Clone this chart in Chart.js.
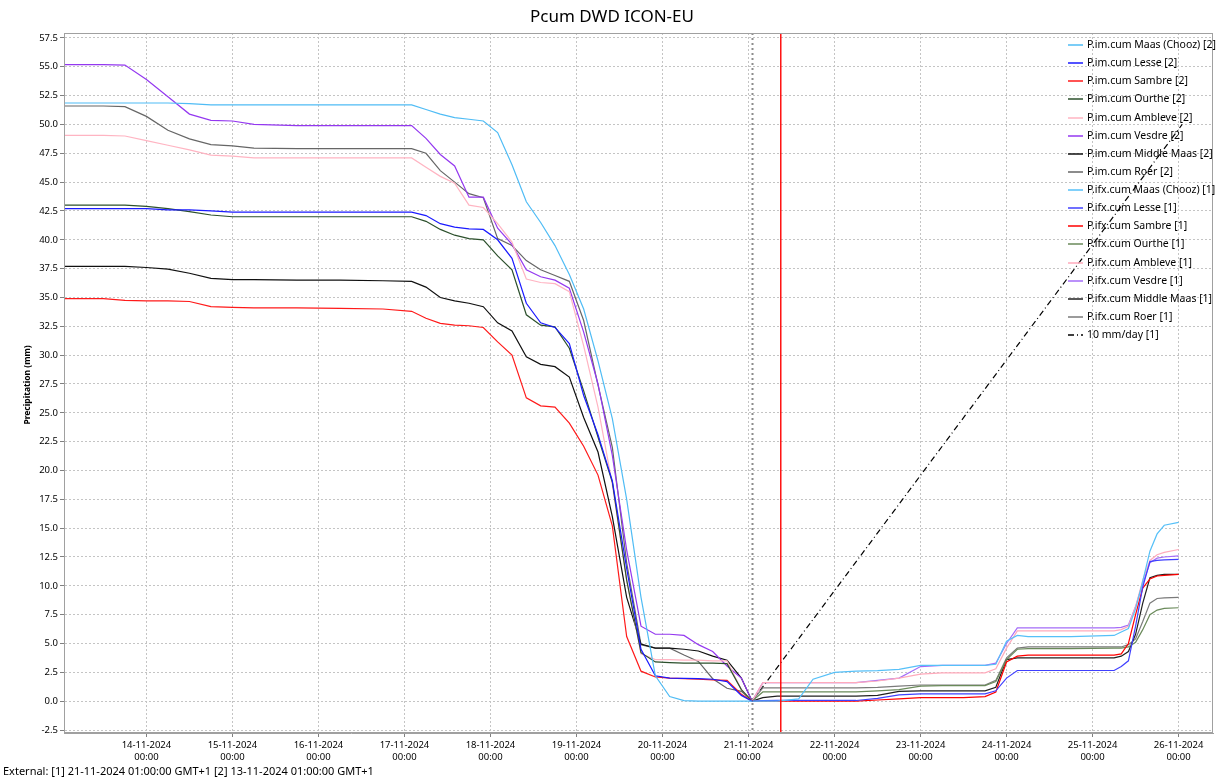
<!DOCTYPE html>
<html lang="en">
<head>
<meta charset="UTF-8">
<title>Pcum DWD ICON-EU</title>
<script src="https://cdn.jsdelivr.net/npm/chart.js"></script>
<style>
  html, body { margin: 0; padding: 0; background: #fff; }
</style>
</head>
<body>
<canvas id="pcumChart" width="1223" height="780"></canvas>
<script>
// x values are hours since 13-11-2024 00:00
const dayLabels = ['14-11-2024', '15-11-2024', '16-11-2024', '17-11-2024', '18-11-2024', '19-11-2024',
  '20-11-2024', '21-11-2024', '22-11-2024', '23-11-2024', '24-11-2024', '25-11-2024', '26-11-2024'];

// observed cumulative [2]
const obsHours = [1, 12, 18, 24, 30, 36, 42, 48, 54, 66, 78, 90, 98, 102, 106, 110, 114, 118, 122, 126,
  130, 134, 138, 142, 146, 150, 154, 158, 162, 166, 170, 174, 178, 182, 186, 190, 193];
const imMaas = [51.86, 51.86, 51.86, 51.86, 51.86, 51.8, 51.7, 51.7, 51.7, 51.7, 51.7, 51.7, 51.7, 51.3, 50.9, 50.6, 50.45, 50.3, 49.3, 46.5,
  43.3, 41.5, 39.5, 37.0, 34.0, 29.5, 24.5, 17.5, 9.0, 2.2, 0.4, 0.05, 0, 0, 0, 0, 0];
const imLesse = [42.7, 42.7, 42.7, 42.7, 42.6, 42.6, 42.5, 42.4, 42.4, 42.4, 42.4, 42.4, 42.4, 42.1, 41.4, 41.1, 40.95, 40.9, 40.0, 38.4,
  34.5, 32.8, 32.4, 31.0, 26.5, 23.1, 19.1, 11.5, 4.5, 2.2, 2.0, 1.97, 1.95, 1.9, 1.7, 0.5, 0];
const imSambre = [34.9, 34.9, 34.75, 34.7, 34.7, 34.65, 34.2, 34.15, 34.1, 34.1, 34.05, 34.0, 33.8, 33.2, 32.75, 32.6, 32.55, 32.4, 31.15, 30.0,
  26.3, 25.6, 25.5, 24.1, 22.1, 19.6, 15.2, 5.6, 2.6, 2.1, 2.0, 1.95, 1.9, 1.85, 1.8, 0.6, 0];
const imOurthe = [43.0, 43.0, 43.0, 42.9, 42.7, 42.45, 42.15, 42.0, 42.0, 42.0, 42.0, 42.0, 42.0, 41.6, 40.9, 40.4, 40.1, 40.0, 38.6, 37.4,
  33.5, 32.6, 32.45, 30.6, 26.9, 22.9, 19.0, 10.5, 4.2, 3.4, 3.35, 3.3, 3.3, 3.3, 3.25, 1.0, 0];
const imAmbleve = [49.06, 49.06, 49.0, 48.6, 48.2, 47.8, 47.35, 47.25, 47.1, 47.1, 47.1, 47.1, 47.1, 46.3, 45.5, 44.9, 43.0, 42.8, 41.4, 39.8,
  36.6, 36.3, 36.2, 35.5, 30.8, 25.5, 18.8, 10.5, 4.1, 3.6, 3.6, 3.55, 3.55, 3.5, 3.5, 1.0, 0];
const imVesdre = [55.19, 55.19, 55.15, 53.9, 52.4, 50.9, 50.35, 50.3, 50.0, 49.9, 49.9, 49.9, 49.9, 48.8, 47.4, 46.4, 43.7, 43.7, 41.0, 39.6,
  37.4, 36.8, 36.5, 35.8, 32.0, 27.5, 21.3, 13.1, 6.5, 5.8, 5.8, 5.7, 4.9, 4.3, 3.05, 2.0, 0];
const imMiddleMaas = [37.7, 37.7, 37.7, 37.6, 37.45, 37.1, 36.65, 36.55, 36.55, 36.5, 36.5, 36.45, 36.4, 35.9, 35.0, 34.7, 34.5, 34.2, 32.8, 32.1,
  29.85, 29.2, 29.0, 28.1, 24.6, 21.6, 16.0, 9.0, 4.95, 4.6, 4.6, 4.5, 4.35, 3.9, 3.55, 2.0, 0];
const imRoer = [51.6, 51.6, 51.55, 50.7, 49.5, 48.75, 48.25, 48.15, 47.95, 47.9, 47.9, 47.9, 47.9, 47.5, 46.0, 45.0, 44.0, 43.65, 40.1, 39.5,
  38.2, 37.4, 36.9, 36.4, 33.0, 27.4, 22.0, 12.0, 4.9, 4.6, 4.6, 4.0, 3.45, 1.95, 1.12, 0.85, 0];

// forecast cumulative [1]
const fcHours = [193, 196, 200, 206, 210, 216, 222, 228, 234, 240, 246, 252, 258, 261, 264, 267, 270, 282, 294,
  296, 298, 300, 302, 304, 306, 308, 312];
const ifxMaas = [0, 0, 0, 0.2, 1.9, 2.5, 2.6, 2.65, 2.75, 3.1, 3.1, 3.1, 3.1, 3.2, 5.2, 5.7, 5.6, 5.6, 5.7,
  6.0, 6.3, 8.0, 10.4, 13.0, 14.5, 15.25, 15.5];
const ifxLesse = [0, 0.05, 0.06, 0.06, 0.06, 0.06, 0.06, 0.25, 0.55, 0.64, 0.64, 0.64, 0.64, 0.9, 2.0, 2.66, 2.66, 2.66, 2.66,
  3.0, 3.5, 6.5, 9.9, 12.1, 12.2, 12.25, 12.3];
const ifxSambre = [0, 0, 0, 0, 0, 0, 0, 0.1, 0.2, 0.3, 0.3, 0.3, 0.4, 0.8, 3.4, 3.9, 4.0, 4.0, 4.0,
  4.1, 5.0, 7.5, 9.8, 10.6, 10.85, 10.9, 11.0];
const ifxOurthe = [0, 0.8, 0.8, 0.8, 0.8, 0.8, 0.8, 0.9, 1.0, 1.3, 1.35, 1.35, 1.35, 1.7, 3.6, 4.5, 4.55, 4.55, 4.6,
  4.6, 4.7, 5.1, 6.2, 7.5, 7.9, 8.05, 8.1];
const ifxAmbleve = [0, 1.6, 1.6, 1.6, 1.6, 1.6, 1.6, 1.75, 2.0, 2.35, 2.45, 2.45, 2.45, 2.8, 4.6, 6.1, 6.1, 6.1, 6.1,
  6.2, 6.5, 8.2, 10.5, 12.2, 12.7, 12.9, 13.15];
const ifxVesdre = [0, 1.6, 1.6, 1.6, 1.6, 1.6, 1.6, 1.8, 2.0, 3.0, 3.1, 3.1, 3.1, 3.3, 5.0, 6.36, 6.36, 6.36, 6.36,
  6.4, 6.6, 8.2, 10.2, 12.0, 12.4, 12.5, 12.6];
const ifxMiddleMaas = [0, 0.3, 0.43, 0.43, 0.43, 0.43, 0.43, 0.5, 0.85, 0.9, 0.9, 0.9, 0.9, 1.2, 3.6, 3.75, 3.75, 3.75, 3.75,
  3.9, 4.3, 5.8, 8.5, 10.7, 10.9, 11.0, 11.0];
const ifxRoer = [0, 1.15, 1.15, 1.15, 1.15, 1.15, 1.15, 1.2, 1.3, 1.4, 1.4, 1.4, 1.4, 1.8, 3.75, 4.6, 4.7, 4.7, 4.7,
  4.7, 4.9, 5.4, 6.9, 8.5, 8.9, 8.95, 9.0];

// 10 mm/day reference line
const rateHours = [193, 313];
const rateValues = [0, 50];

const refHour = 193;   // [1] 21-11-2024 01:00
const nowHour = 201;   // red marker

const FONT = 'Noto Sans';

function pts(xs, ys) {
  return xs.map((x, i) => ({ x: x, y: ys[i] }));
}

function series(label, xs, ys, color, dash) {
  return {
    label: label,
    data: pts(xs, ys),
    borderColor: color,
    backgroundColor: color,
    borderWidth: 1.2,
    borderDash: dash || [],
    pointRadius: 0,
    fill: false,
    tension: 0
  };
}

const datasets = [
  series('P.im.cum Maas (Chooz) [2]', obsHours, imMaas, '#4fbcf5'),
  series('P.im.cum Lesse [2]', obsHours, imLesse, '#1a1aff'),
  series('P.im.cum Sambre [2]', obsHours, imSambre, '#ff1a1a'),
  series('P.im.cum Ourthe [2]', obsHours, imOurthe, '#2c502c'),
  series('P.im.cum Ambleve [2]', obsHours, imAmbleve, '#ffb4c2'),
  series('P.im.cum Vesdre [2]', obsHours, imVesdre, '#9438f0'),
  series('P.im.cum Middle Maas [2]', obsHours, imMiddleMaas, '#101010'),
  series('P.im.cum Roer [2]', obsHours, imRoer, '#666666'),
  series('P.ifx.cum Maas (Chooz) [1]', fcHours, ifxMaas, '#56c0f8'),
  series('P.ifx.cum Lesse [1]', fcHours, ifxLesse, '#4040ff'),
  series('P.ifx.cum Sambre [1]', fcHours, ifxSambre, '#ff0000'),
  series('P.ifx.cum Ourthe [1]', fcHours, ifxOurthe, '#6a8a5a'),
  series('P.ifx.cum Ambleve [1]', fcHours, ifxAmbleve, '#ffaabb'),
  series('P.ifx.cum Vesdre [1]', fcHours, ifxVesdre, '#a46cf8'),
  series('P.ifx.cum Middle Maas [1]', fcHours, ifxMiddleMaas, '#202020'),
  series('P.ifx.cum Roer [1]', fcHours, ifxRoer, '#7a7a7a'),
  series('10 mm/day [1]', rateHours, rateValues, '#000000', [6, 3, 1, 3])
];

// frame, reference verticals
const framePlugin = {
  id: 'frame',
  beforeDatasetsDraw(chart) {
    const { ctx, chartArea: a, scales: { x } } = chart;
    const px = Math.round(x.getPixelForValue(refHour)) + 0.5;
    ctx.save();
    ctx.strokeStyle = '#8c8c8c';
    ctx.lineWidth = 2;
    ctx.setLineDash([2, 3]);
    ctx.beginPath();
    ctx.moveTo(px, a.top);
    ctx.lineTo(px, a.bottom);
    ctx.stroke();
    ctx.restore();
  },
  afterDatasetsDraw(chart) {
    const { ctx, chartArea: a, scales: { x } } = chart;
    const px = x.getPixelForValue(nowHour);
    ctx.save();
    ctx.strokeStyle = '#ff0000';
    ctx.lineWidth = 1.4;
    ctx.beginPath();
    ctx.moveTo(px, a.top);
    ctx.lineTo(px, a.bottom);
    ctx.stroke();
    ctx.strokeStyle = '#a0a0a0';
    ctx.lineWidth = 1;
    ctx.strokeRect(a.left + 0.5, a.top + 0.5, a.right - a.left - 1, a.bottom - a.top - 1);
    ctx.restore();
  }
};

// legend drawn inside the plot, top right
const legendPlugin = {
  id: 'insideLegend',
  afterDraw(chart) {
    const { ctx } = chart;
    const x0 = 1068, y0 = 45, rowH = 18.125;
    ctx.save();
    ctx.font = '10.5px "' + FONT + '"';
    ctx.textBaseline = 'middle';
    ctx.fillStyle = '#000';
    chart.data.datasets.forEach((ds, i) => {
      const y = Math.round(y0 + i * rowH);
      ctx.strokeStyle = ds.borderColor;
      ctx.lineWidth = 1.5;
      ctx.setLineDash(ds.borderDash);
      ctx.beginPath();
      ctx.moveTo(x0, y);
      ctx.lineTo(x0 + 15, y);
      ctx.stroke();
      ctx.setLineDash([]);
      ctx.fillText(ds.label, x0 + 19, y);
    });
    ctx.restore();
  }
};

// title, axis title, footer
const textPlugin = {
  id: 'texts',
  afterDraw(chart) {
    const { ctx } = chart;
    ctx.save();
    ctx.fillStyle = '#000';
    ctx.textAlign = 'center';
    ctx.textBaseline = 'middle';
    ctx.font = '17px "' + FONT + '"';
    ctx.fillText('Pcum DWD ICON-EU', 612, 17);

    ctx.save();
    ctx.translate(28, 385);
    ctx.rotate(-Math.PI / 2);
    ctx.font = 'bold 8.5px "' + FONT + '"';
    ctx.fillText('Precipitation (mm)', 0, 0);
    ctx.restore();

    ctx.textAlign = 'left';
    ctx.font = '11px "' + FONT + '"';
    ctx.fillText('External: [1] 21-11-2024 01:00:00 GMT+1 [2] 13-11-2024 01:00:00 GMT+1', 3, 772);
    ctx.restore();
  }
};

const ctx = document.getElementById('pcumChart').getContext('2d');
const chart = new Chart(ctx, {
  type: 'line',
  data: { datasets: datasets },
  options: {
    responsive: false,
    animation: false,
    layout: { padding: { left: 0, top: 33, right: 10, bottom: 0 } },
    elements: { point: { radius: 0 }, line: { tension: 0 } },
    plugins: {
      legend: { display: false },
      title: { display: false },
      tooltip: { enabled: false }
    },
    scales: {
      x: {
        type: 'linear',
        min: 1,
        max: 321.6,
        afterFit(scale) { scale.height = 47; },
        ticks: {
          stepSize: 24,
          includeBounds: false,
          autoSkip: false,
          maxRotation: 0,
          padding: 2,
          color: '#000',
          font: { family: FONT, size: 9.5, lineHeight: 1.25 },
          callback(v) {
            const idx = Math.round(v / 24) - 1;
            return [dayLabels[idx], '00:00'];
          }
        },
        grid: {
          color: '#c4c4c4',
          tickLength: 4,
          tickColor: '#808080',
          tickBorderDash: []
        },
        border: { display: true, color: '#a0a0a0', dash: [2, 2] }
      },
      y: {
        type: 'linear',
        min: -2.76,
        max: 57.93,
        afterFit(scale) { scale.width = 64; },
        ticks: {
          stepSize: 2.5,
          includeBounds: false,
          padding: 2,
          color: '#000',
          font: { family: FONT, size: 9.5 },
          callback(v) { return v.toFixed(1); }
        },
        grid: {
          color: '#c4c4c4',
          tickLength: 4,
          tickColor: '#808080',
          tickBorderDash: []
        },
        border: { display: true, color: '#a0a0a0', dash: [2, 2] }
      }
    }
  },
  plugins: [framePlugin, legendPlugin, textPlugin]
});
</script>
</body>
</html>
